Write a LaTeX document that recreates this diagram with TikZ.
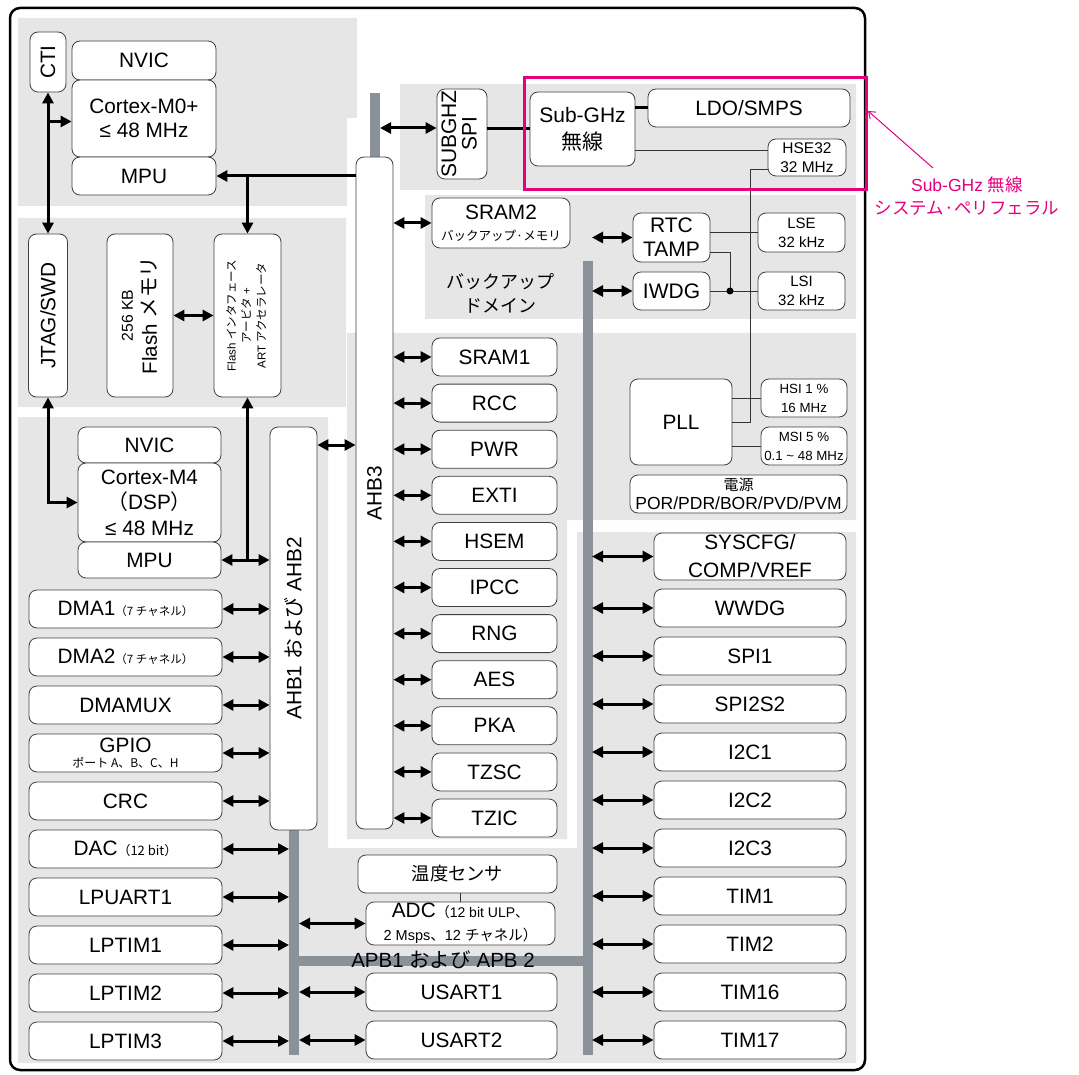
\documentclass[tikz,border=0pt]{standalone}
\usepackage{fontspec}
\setmainfont{Liberation Sans}
\newfontfamily\jp{Noto Sans CJK JP}
\usetikzlibrary{arrows.meta}
\definecolor{bggray}{RGB}{230,230,230}
\definecolor{busgray}{RGB}{138,145,152}
\definecolor{stpink}{RGB}{230,0,126}
\newcommand\fz[2]{\fontsize{#1}{#2}\selectfont}
\newcommand\rot[1]{\rotatebox{90}{#1}}
\newcommand\rotii[2]{\rotatebox{90}{#1\begin{tabular}{@{}c@{}}#2\end{tabular}}}
\tikzset{blk/.style={draw=black!75,line width=0.8pt,rounded corners=8pt,fill=white,inner sep=0pt,align=center,font=\fz{20.8}{24}},
wh/.style 2 args={minimum width=#1pt,minimum height=#2pt},
arr/.style={{Triangle[length=11pt,width=11pt]}-{Triangle[length=11pt,width=11pt]},line width=3pt},
arr1/.style={-{Triangle[length=11pt,width=11pt]},line width=3pt},
thk/.style={line width=3pt},
ln/.style={draw=black!80,line width=0.9pt},
bus/.style={draw=busgray,line width=10pt}}

\begin{document}
\begin{tikzpicture}[x=1pt,y=-1pt]
\useasboundingbox (0,0) rectangle (1079,1075);
% grey areas
\fill[bggray] (18,18) rectangle (357,118) (18,118) rectangle (347,206) (400,84) rectangle (856,190)
 (18,218) rectangle (346,407) (425,195) rectangle (856,319) (347,333) rectangle (856,520) (347,333) rectangle (567,839)
 (18,417) rectangle (328,1063) (577,532) rectangle (856,1063) (18,848) rectangle (856,1063);
\draw[line width=2.5pt,rounded corners=10pt] (10,8) rectangle (865,1070);
% buses
\coordinate (tbus) at (380,0); \coordinate (lbus) at (299,0); \coordinate (lbusW) at (289,0); \coordinate (rbus) at (592,0);
\draw[bus] (375,93) -- (375,160);
\draw[bus] (294,825) -- (294,1055) (294,960.5) -- (587.5,960.5);
\draw[bus] (587.5,261) -- (587.5,1055);

% Cortex-M0+ and flash
\node[blk,wh={36}{60}] (cti) at (48,62) {\rot{CTI}};
\node[blk,wh={144}{39}] (nvicA) at (144,60.5) {NVIC};
\node[blk,wh={144}{77}] (cmA) at (144,118.5) {Cortex-M0+\\≤ 48 MHz};
\node[blk,wh={144}{38}] (mpuA) at (144,176) {MPU};
\node[blk,wh={39}{163}] (jtag) at (48,315.5) {\rot{JTAG/SWD}};
\node[blk,wh={66}{163}] (flash) at (140,315.5) {\rotii{}{\fz{15.8}{22}256 KB\\\fz{20.5}{22}Flash {\jp メモリ}}};
\node[blk,wh={67}{163}] (fif) at (247.5,315.5) {\rotii{\fz{11.5}{15}}{Flash {\jp インタフェース}\\{\jp アービタ} +\\ART {\jp アクセラレータ}}};

% Cortex-M4
\node[blk,wh={143}{36}] (nvicB) at (149.5,445) {NVIC};
\node[blk,wh={143}{79}] (cmB) at (149.5,502.5) {Cortex-M4\\[1.5pt]{\jp（}DSP{\jp）}\\[1.5pt]≤ 48 MHz};
\node[blk,wh={143}{36}] (mpuB) at (149.5,560) {MPU};
\node[blk,wh={47}{403}] (ahbB) at (293.5,628.5) {\rot{AHB1 {\jp および} AHB2}};
\node[blk,wh={37}{672}] (ahbC) at (374.5,493) {\rot{AHB3}};

% sub-GHz radio
\node[blk,wh={50}{90}] (spi) at (462,134) {\rotii{\fz{21}{20}}{SUBGHZ\\SPI}};
\node[blk,wh={105}{74},font=\fz{21}{24}] (radio) at (582.5,129) {Sub-GHz\\[3pt]{\jp 無線}};
\node[blk,wh={202}{38}] (ldo) at (749,108) {LDO/SMPS};
\node[blk,wh={78}{37},font=\fz{15.5}{19}] (hse) at (807,157.5) {HSE32\\32 MHz};

% backup domain
\node[blk,wh={138}{50}] (sram2) at (501,223) {SRAM2\\[-3pt]{\jp\fz{12.5}{14}バックアップ·メモリ}};
\node[blk,wh={77}{49},font=\fz{21}{24}] (rtc) at (671.5,237.5) {RTC\\TAMP};
\node[blk,wh={77}{38},font=\fz{21}{24}] (iwdg) at (671.5,291) {IWDG};
\node[blk,wh={87}{39},font=\fz{15}{19}] (lse) at (801.5,232.5) {LSE\\32 kHz};
\node[blk,wh={87}{38},font=\fz{15}{19}] (lsi) at (801.5,291) {LSI\\32 kHz};
\node[font=\jp\fz{18}{24},align=center] (bkup) at (500,293) {バックアップ\\ドメイン};

% clocks and power
\node[blk,wh={102}{86}] (pll) at (681,422) {PLL};
\node[blk,wh={86}{38},font=\fz{13.3}{19}] (hsi) at (804,398) {HSI 1 \%\\16 MHz};
\node[blk,wh={86}{38},font=\fz{13.3}{19}] (msi) at (804,446) {MSI 5 \%\\0.1 \textasciitilde{} 48 MHz};
\node[blk,wh={217}{38},font=\fz{17.5}{19}] (vdd) at (738.5,494) {{\jp\fz{15}{19}電源}\\POR/PDR/BOR/PVD/PVM};

% AHB3 peripherals
\foreach \n/\t [count=\i from 0] in {sram1/SRAM1,rcc/RCC,pwr/PWR,exti/EXTI,hsem/HSEM,ipcc/IPCC,rng/RNG,aes/AES,pka/PKA,tzsc/TZSC,tzic/TZIC}{
 \node[blk,wh={125}{38}] (\n) at (494.5,357+46.1*\i) {\t};
 \draw[arr] (\n.west -| ahbC.east) -- (\n.west);}

% AHB1/AHB2 and APB peripherals on the left
\foreach \n/\t [count=\i from 0] in {dma1/{DMA1{\jp\fz{11.5}{13}（7 チャネル）}},dma2/{DMA2{\jp\fz{11.5}{13}（7 チャネル）}},dmamux/DMAMUX,
 gpio/{GPIO\\[-8.5pt]{\jp\fz{12}{14}ポート A、B、C、H}},crc/CRC,dac/{DAC{\jp\fz{13}{14}（12 bit）}},lpuart/LPUART1,lptim1/LPTIM1,lptim2/LPTIM2,lptim3/LPTIM3}
 \node[blk,wh={193}{38}] (\n) at (125.5,609+48*\i) {\t};
\foreach \n in {dma1,dma2,dmamux,gpio,crc} \draw[arr] (\n.east) -- (\n.east -| ahbB.west);
\foreach \n in {dac,lpuart,lptim1,lptim2,lptim3} \draw[arr] (\n.east) -- (\n.east -| lbusW);

% APB peripherals in the middle and on the right
\node[blk,wh={199}{38},font=\jp\fz{18.3}{24}] (temp) at (457.5,874) {温度センサ};
\node[blk,wh={189}{43}] (adc) at (460.5,923.5) {ADC{\jp\fz{14}{16}（}{\fz{14}{16}12 bit ULP}{\jp\fz{14}{16}、}\\[-1pt]{\fz{14.5}{16}2 Msps{\jp 、}12 {\jp チャネル）}}};
\node[font=\fz{20.5}{24}] (apb) at (443,960) {APB1 {\jp および} APB 2};
\foreach \n [count=\i from 0] in {USART1,USART2}{
 \node[blk,wh={191}{38}] (\n) at (461.5,992+48*\i) {\n};
 \draw[arr] (\n.west -| lbus) -- (\n.west);}
\node[blk,wh={192}{47}] (syscfg) at (750,556.5) {SYSCFG/\\[4pt]COMP/VREF};
\draw[arr] (syscfg.west -| rbus) -- (syscfg.west);
\foreach \n [count=\i] in {WWDG,SPI1,SPI2S2,I2C1,I2C2,I2C3,TIM1,TIM2,TIM16,TIM17}{
 \node[blk,wh={192}{38}] (\n) at (750,560+48*\i) {\n};
 \draw[arr] (\n.west -| rbus) -- (\n.west);}

% connections
\draw[arr] (cti.south) -- (jtag.north);
\draw[arr1] ([yshift=-3pt]cmA.west -| cti.south) -- ([yshift=-3pt]cmA.west);
\draw[arr1] (mpuA.east -| ahbC.west) -- (mpuA.east);
\draw[arr1] (mpuA.east -| fif.north) -- (fif.north);
\draw[arr] (flash.east) -- (fif.west);
\draw[arr] (jtag.south) |- (cmB.west);
\draw[arr] (mpuB.east) -- (mpuB.east -| ahbB.west);
\draw[arr1] (mpuB.east -| fif.south) -- (fif.south);
\draw[arr] (nvicB.east -| ahbB.east) -- (nvicB.east -| ahbC.west);
\draw[arr] ([yshift=6pt]spi.west -| tbus) -- ([yshift=6pt]spi.west);
\draw[thk] (radio.west -| spi.east) -- (radio.west);
\draw[thk] (ldo.west -| radio.east) -- (ldo.west);
\draw[ln] ([yshift=7.5pt]hse.west) -- ([yshift=7.5pt]hse.west -| radio.east);
\coordinate (clk) at (750,422);
\draw[ln] ([yshift=-12pt]hse.west) -| (clk) -- (pll.east);
\draw[ln] (hsi.west -| pll.east) -- (hsi.west);
\draw[ln] (msi.west -| pll.east) -- (msi.west);
\draw[arr] (sram2.west -| ahbC.east) -- (sram2.west);
\draw[arr] (rtc.west -| rbus) -- (rtc.west);
\draw[arr] (iwdg.west -| rbus) -- (iwdg.west);
\coordinate (dot) at (730,291);
\draw[ln] (lse.west -| rtc.east) -- (lse.west);
\draw[ln] ([yshift=-14.5pt]rtc.east) -| (dot);
\draw[ln] (iwdg.east) -- (lsi.west);
\fill (dot) circle (3.5pt);
\draw[ln] (adc.north) -- (adc.north |- temp.south);
\draw[arr] (adc.west -| lbus) -- (adc.west);

% sub-GHz system peripherals
\draw[stpink,line width=3pt] (524,78) rectangle (866,190);
\node[text=stpink,font=\fz{17.5}{23},align=center] (note) at (967,196) {Sub-GHz {\jp 無線}\\{\jp システム·ペリフェラル}};
\coordinate (ntail) at (933,168); \coordinate (tip) at (868,111);
\draw[stpink,line width=1pt,-{Straight Barb[length=6pt,width=9pt]}] (ntail) -- (tip);
\end{tikzpicture}
\end{document}
